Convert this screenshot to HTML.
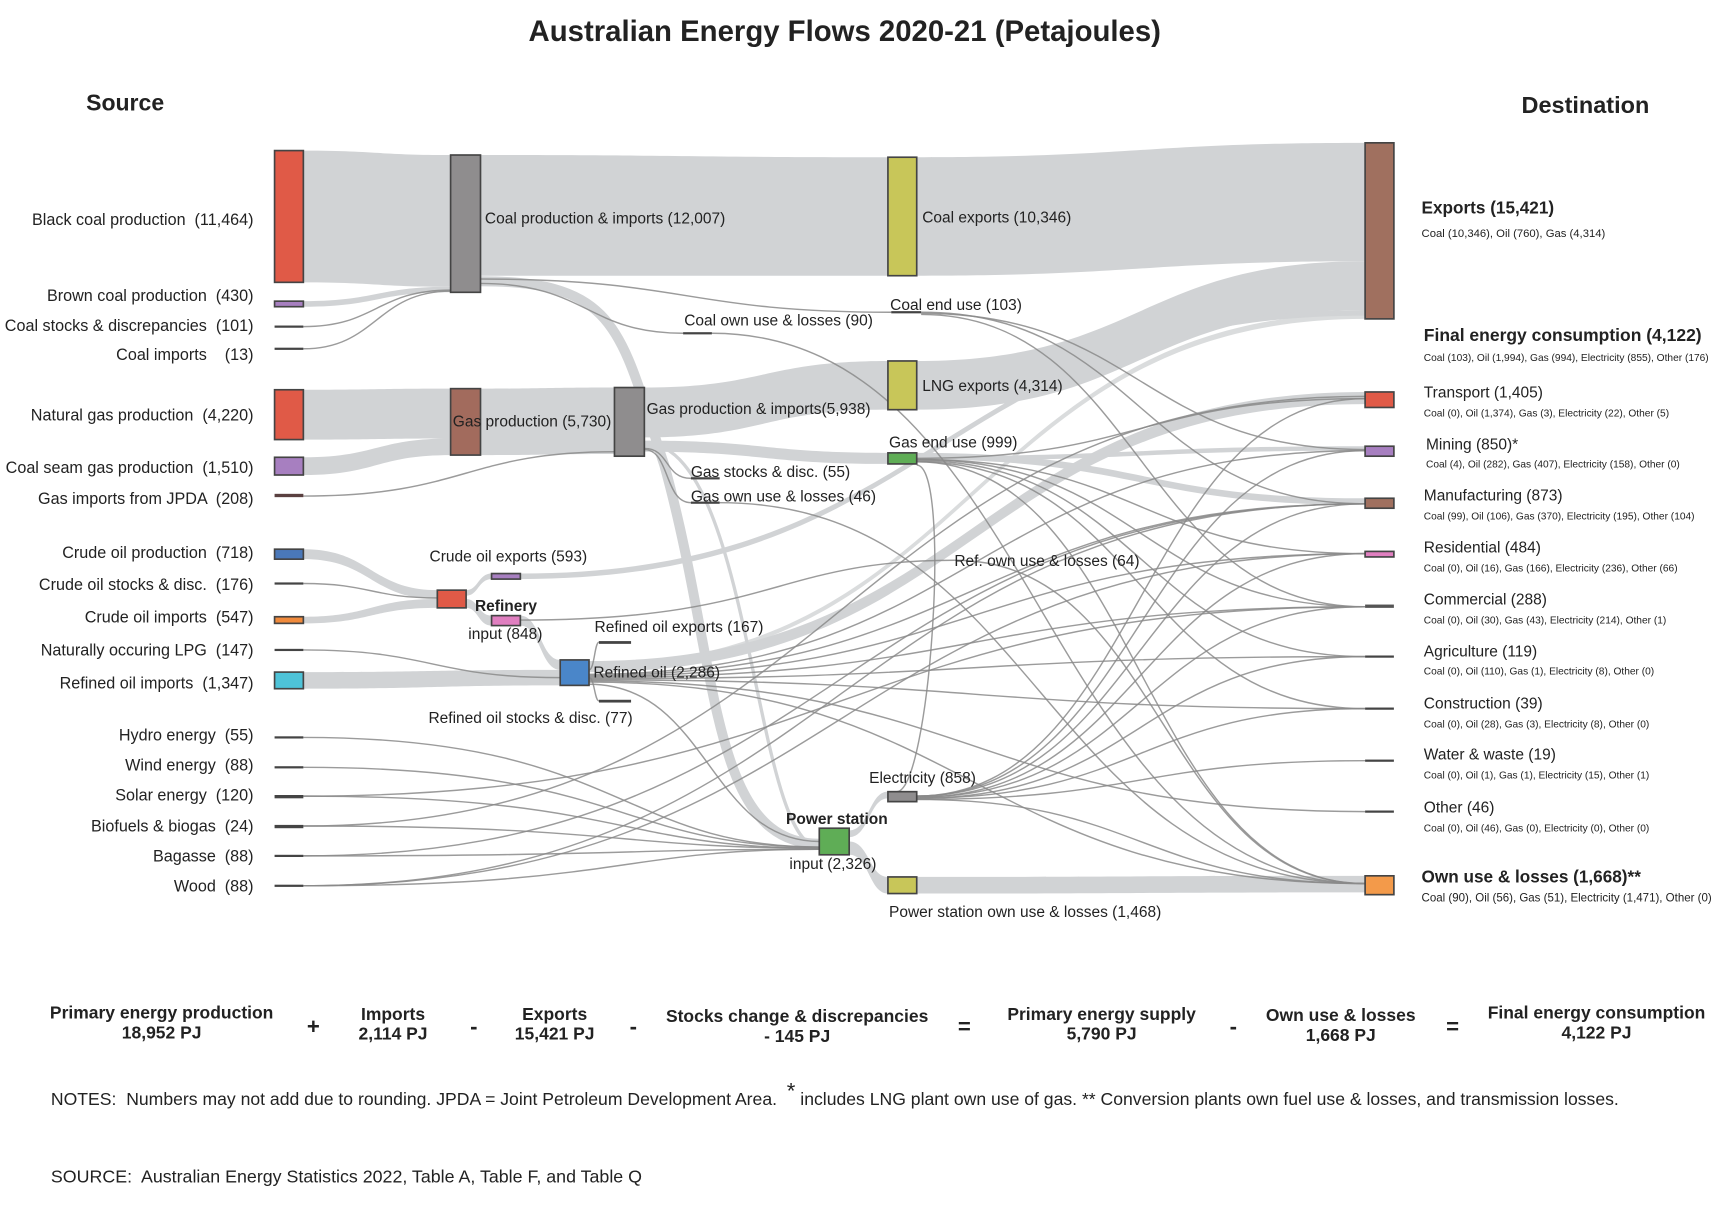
<!DOCTYPE html>
<html><head><meta charset="utf-8"><style>
html,body{margin:0;padding:0;background:#fff}
svg{display:block}
text{font-family:"Liberation Sans",Arial,sans-serif;fill:#222;white-space:pre}
.b{fill:#d1d3d5}
.l{fill:none;stroke:#8a8a8a;stroke-width:1.3;stroke-opacity:.85}
.n{stroke:#444;stroke-width:1.5}
.s{font-size:14px}
.ls{font-size:14.6px}
.sm{font-size:9.2px}
.bt{font-size:15.8px;font-weight:bold;fill:#444}
</style></head><body>
<svg width="1736" height="1208" viewBox="0 0 1568 1091" preserveAspectRatio="none" xmlns="http://www.w3.org/2000/svg">
<rect width="1568" height="1091" fill="#fff"/>
<path class="b" d="M274 136C340 136 340 140 407 140L407 259C340 259 340 255 274 255Z"/>
<path class="b" d="M274 272C340 272 340 259 407 259L407 264C340 264 340 277 274 277Z"/>
<path class="b" d="M434 140C620 140 620 142 802 142L802 249C620 249 620 249 434 249Z"/>
<path class="b" d="M828 142C1030 142 1030 129 1233 129L1233 236C1030 236 1030 249 828 249Z"/>
<path d="M434 254C560 254 560 300 600 420C650 600 640 762 740 762" fill="none" stroke="#d1d3d5" stroke-width="9"/>
<path class="b" d="M274 352C340 352 340 351 407 351L407 396C340 396 340 397 274 397Z"/>
<path class="b" d="M274 413C340 413 340 396 407 396L407 411C340 411 340 429 274 429Z"/>
<path class="b" d="M434 351C495 351 495 350 555 350L555 410C495 410 495 411 434 411Z"/>
<path class="b" d="M582 350C690 350 690 326 802 326L802 370C690 370 690 395 582 395Z"/>
<path class="b" d="M828 326C1030 326 1030 236 1233 236L1233 280C1030 280 1030 370 828 370Z"/>
<path class="b" d="M582 398C690 398 690 409 802 409L802 419C690 419 690 408 582 408Z"/>
<path class="b" d="M274 496C335 496 335 533 395 533L395 541C335 541 335 505 274 505Z"/>
<path class="b" d="M274 557C335 557 335 541 395 541L395 549C335 549 335 563 274 563Z"/>
<path class="b" d="M421 533C432 533 432 518 444 518L444 523C432 523 432 538 421 538Z"/>
<path class="b" d="M470 518C850 518 850 280 1233 280L1233 285C850 285 850 523 470 523Z"/>
<path class="b" d="M421 541C432 541 432 556 444 556L444 565C432 565 432 549 421 549Z"/>
<path class="b" d="M470 556C488 556 488 596 506 596L506 605C488 605 488 565 470 565Z"/>
<path class="b" d="M274 607C390 607 390 605 506 605L506 619C390 619 390 622 274 622Z"/>
<path class="b" d="M532 597C880 597 880 354 1233 354L1233 365C880 365 880 607 532 607Z"/>
<path class="b" d="M532 600C880 600 880 283 1233 283L1233 288C880 288 880 604 532 604Z" opacity=".8"/>
<path class="b" d="M767 750C785 750 785 715 802 715L802 721C785 721 785 756 767 756Z"/>
<path class="b" d="M767 760C785 760 785 792 802 792L802 807C785 807 785 772 767 772Z"/>
<path class="b" d="M828 792C1030 792 1030 791 1233 791L1233 806C1030 806 1030 807 828 807Z"/>
<path class="b" d="M828 409C1030 409 1030 450 1233 450L1233 456C1030 456 1030 415 828 415Z"/>
<path class="b" d="M828 412C1030 412 1030 403 1233 403L1233 407C1030 407 1030 416 828 416Z"/>
<path d="M582 400C680 400 680 765 740 765" fill="none" stroke="#d1d3d5" stroke-width="3"/>
<g class="l">
<path d="M274 295C340 295 340 262 407 262"/><path d="M274 315C340 315 340 263 407 263"/>
<path d="M274 448C420 448 420 408 555 408"/>
<path d="M274 527C335 527 335 540 395 540"/>
<path d="M274 587C390 587 390 612 506 612"/>
<path d="M434 252C620 252 620 282 805 282"/><path d="M434 256C530 256 530 301 617 301"/>
<path d="M582 405C605 405 600 432 624 432"/><path d="M582 406C605 406 600 454 624 454"/>
<path d="M532 605C537 605 537 580 541 580"/><path d="M532 612C537 612 537 633 541 633"/>
<path d="M832 282C1030 282 1030 455 1233 455"/><path d="M832 283C1030 283 1030 406 1233 406"/><path d="M832 284C1030 284 1030 548 1233 548"/>
<path d="M274 666C560 666 560 765 740 765"/><path d="M274 693C560 693 560 765 740 765"/><path d="M274 719C560 719 560 766 740 766"/>
<path d="M274 746C560 746 560 766 740 766"/><path d="M274 773C560 773 560 767 740 767"/><path d="M274 800C560 800 560 767 740 767"/>
<path d="M274 746C760 746 760 358 1233 358"/><path d="M274 773C760 773 760 455 1233 455"/><path d="M274 800C760 800 760 500 1233 500"/>
<path d="M274 800C760 800 760 455 1233 455"/><path d="M274 719C760 719 760 548 1233 548"/>
<path d="M828 719C1030 719 1030 360 1233 360"/><path d="M828 719C1030 719 1030 407 1233 407"/><path d="M828 719C1030 719 1030 455 1233 455"/>
<path d="M828 720C1030 720 1030 500 1233 500"/><path d="M828 720C1030 720 1030 548 1233 548"/><path d="M828 721C1030 721 1030 593 1233 593"/>
<path d="M828 721C1030 721 1030 640 1233 640"/><path d="M828 722C1030 722 1030 687 1233 687"/><path d="M828 722C1030 722 1030 798 1233 798"/>
<path d="M828 414C1030 414 1030 360 1233 360"/><path d="M828 415C1030 415 1030 500 1233 500"/><path d="M828 415C1030 415 1030 548 1233 548"/>
<path d="M828 416C1030 416 1030 593 1233 593"/><path d="M828 417C1030 417 1030 640 1233 640"/><path d="M828 417C1030 417 1030 798 1233 798"/>
<path d="M532 609C880 609 880 407 1233 407"/><path d="M532 610C880 610 880 455 1233 455"/><path d="M532 611C880 611 880 500 1233 500"/>
<path d="M532 612C880 612 880 548 1233 548"/><path d="M532 613C880 613 880 593 1233 593"/><path d="M532 614C880 614 880 640 1233 640"/>
<path d="M532 615C880 615 880 733 1233 733"/><path d="M532 616C880 616 880 798 1233 798"/><path d="M532 618C640 618 640 760 740 760"/>
<path d="M470 560C700 560 700 506 862 506"/><path d="M862 506C1050 506 1050 798 1233 798"/>
<path d="M643 301C940 301 940 798 1233 798"/><path d="M650 454C940 454 940 798 1233 798"/>
<path d="M828 420C860 420 840 715 810 715"/>
</g>
<rect class="n" x="248" y="136" width="26" height="119" fill="#e05a47"/>
<rect class="n" x="248" y="272" width="26" height="5" fill="#a77fc0"/>
<rect x="248" y="294" width="26" height="2" fill="#444"/><rect x="248" y="314" width="26" height="2" fill="#444"/>
<rect class="n" x="248" y="352" width="26" height="45" fill="#e05a47"/>
<rect class="n" x="248" y="413" width="26" height="16" fill="#a77fc0"/>
<rect x="248" y="446" width="26" height="3" fill="#5a4040"/>
<rect class="n" x="248" y="496" width="26" height="9" fill="#4a78b9"/>
<rect x="248" y="526" width="26" height="2" fill="#444"/>
<rect class="n" x="248" y="557" width="26" height="6" fill="#f08a3c"/>
<rect x="248" y="586" width="26" height="2" fill="#444"/>
<rect class="n" x="248" y="607" width="26" height="15" fill="#4ec3d8"/>
<g fill="#444"><rect x="248" y="665" width="26" height="2"/><rect x="248" y="692" width="26" height="2"/><rect x="248" y="718" width="26" height="3"/><rect x="248" y="745" width="26" height="3"/><rect x="248" y="772" width="26" height="2"/><rect x="248" y="799" width="26" height="2"/>
<rect x="617" y="300" width="26" height="2"/><rect x="805" y="281" width="27" height="2"/><rect x="624" y="431" width="26" height="2"/><rect x="624" y="453" width="26" height="2"/>
<rect x="541" y="579" width="29" height="2.5"/><rect x="541" y="632" width="29" height="2.5"/>
<rect x="1233" y="592" width="26" height="2"/><rect x="1233" y="639" width="26" height="2"/><rect x="1233" y="686" width="26" height="2"/><rect x="1233" y="732" width="26" height="2"/></g>
<rect class="n" x="407" y="140" width="27" height="124" fill="#8f8d8e"/>
<rect class="n" x="407" y="351" width="27" height="60" fill="#a26b5d"/>
<rect class="n" x="555" y="350" width="27" height="62" fill="#8f8d8e"/>
<rect class="n" x="395" y="533" width="26" height="16" fill="#e05a47"/>
<rect class="n" x="444" y="518" width="26" height="5" fill="#a77fc0"/>
<rect class="n" x="444" y="556" width="26" height="9" fill="#e07fc0"/>
<rect class="n" x="506" y="596" width="26" height="23" fill="#4a86c9"/>
<rect class="n" x="802" y="142" width="26" height="107" fill="#c8c659"/>
<rect class="n" x="802" y="326" width="26" height="44" fill="#c8c659"/>
<rect class="n" x="802" y="409" width="26" height="10" fill="#5fad56"/>
<rect class="n" x="740" y="748" width="27" height="24" fill="#5fad56"/>
<rect class="n" x="802" y="715" width="26" height="9" fill="#8f8d8e"/>
<rect class="n" x="802" y="792" width="26" height="15" fill="#c8c659"/>
<rect class="n" x="1233" y="129" width="26" height="159" fill="#a0705f"/>
<rect class="n" x="1233" y="354" width="26" height="14" fill="#e05a47"/>
<rect class="n" x="1233" y="403" width="26" height="9" fill="#a77fc0"/>
<rect class="n" x="1233" y="450" width="26" height="9" fill="#a0705f"/>
<rect class="n" x="1233" y="498" width="26" height="5" fill="#e07fc0"/>
<rect x="1233" y="546" width="26" height="3" fill="#555"/>
<rect class="n" x="1233" y="791" width="26" height="17" fill="#f39a4a"/>
<text x="763" y="37" text-anchor="middle" font-size="26.5" font-weight="bold">Australian Energy Flows 2020-21 (Petajoules)</text>
<text x="113" y="100" text-anchor="middle" font-size="20.8" font-weight="bold">Source</text>
<text x="1432" y="102" text-anchor="middle" font-size="21.2" font-weight="bold">Destination</text>
<g class="ls" text-anchor="end">
<text x="229" y="203">Black coal production  (11,464)</text>
<text x="229" y="272">Brown coal production  (430)</text>
<text x="229" y="299">Coal stocks &amp; discrepancies  (101)</text>
<text x="229" y="325">Coal imports    (13)</text>
<text x="229" y="380">Natural gas production  (4,220)</text>
<text x="229" y="427">Coal seam gas production  (1,510)</text>
<text x="229" y="455">Gas imports from JPDA  (208)</text>
<text x="229" y="504">Crude oil production  (718)</text>
<text x="229" y="533">Crude oil stocks &amp; disc.  (176)</text>
<text x="229" y="562">Crude oil imports  (547)</text>
<text x="229" y="592">Naturally occuring LPG  (147)</text>
<text x="229" y="622">Refined oil imports  (1,347)</text>
<text x="229" y="669">Hydro energy  (55)</text>
<text x="229" y="696">Wind energy  (88)</text>
<text x="229" y="723">Solar energy  (120)</text>
<text x="229" y="751">Biofuels &amp; biogas  (24)</text>
<text x="229" y="778">Bagasse  (88)</text>
<text x="229" y="805">Wood  (88)</text>
</g>
<g class="s">
<text x="438" y="202">Coal production &amp; imports (12,007)</text>
<text x="833" y="201">Coal exports (10,346)</text>
<text x="804" y="280">Coal end use (103)</text>
<text x="618" y="294">Coal own use &amp; losses (90)</text>
<text x="833" y="353">LNG exports (4,314)</text>
<text x="409" y="385">Gas production (5,730)</text>
<text x="584" y="374">Gas production &amp; imports(5,938)</text>
<text x="803" y="404">Gas end use (999)</text>
<text x="624" y="431">Gas stocks &amp; disc. (55)</text>
<text x="624" y="453">Gas own use &amp; losses (46)</text>
<text x="862" y="511">Ref. own use &amp; losses (64)</text>
<text x="388" y="507">Crude oil exports (593)</text>
<text x="429" y="552" font-weight="bold" fill="#444">Refinery</text>
<text x="423" y="577">input (848)</text>
<text x="537" y="571">Refined oil exports (167)</text>
<text x="536" y="612">Refined oil (2,286)</text>
<text x="387" y="653">Refined oil stocks &amp; disc. (77)</text>
<text x="785" y="707">Electricity (858)</text>
<text x="710" y="744" font-weight="bold">Power station</text>
<text x="713" y="785">input (2,326)</text>
<text x="803" y="828">Power station own use &amp; losses (1,468)</text>
</g>
<text x="1284" y="193" font-size="15.5" font-weight="bold">Exports (15,421)</text>
<text x="1284" y="214" font-size="10.2">Coal (10,346), Oil (760), Gas (4,314)</text>
<text x="1286" y="308" font-size="15.8" font-weight="bold">Final energy consumption (4,122)</text>
<text x="1286" y="326" class="sm">Coal (103), Oil (1,994), Gas (994), Electricity (855), Other (176)</text>
<g class="s">
<text x="1286" y="359">Transport (1,405)</text>
<text x="1288" y="406">Mining (850)*</text>
<text x="1286" y="452">Manufacturing (873)</text>
<text x="1286" y="499">Residential (484)</text>
<text x="1286" y="546">Commercial (288)</text>
<text x="1286" y="593">Agriculture (119)</text>
<text x="1286" y="640">Construction (39)</text>
<text x="1286" y="686">Water &amp; waste (19)</text>
<text x="1286" y="734">Other (46)</text>
</g>
<g class="sm">
<text x="1286" y="376">Coal (0), Oil (1,374), Gas (3), Electricity (22), Other (5)</text>
<text x="1288" y="422">Coal (4), Oil (282), Gas (407), Electricity (158), Other (0)</text>
<text x="1286" y="469">Coal (99), Oil (106), Gas (370), Electricity (195), Other (104)</text>
<text x="1286" y="516">Coal (0), Oil (16), Gas (166), Electricity (236), Other (66)</text>
<text x="1286" y="563">Coal (0), Oil (30), Gas (43), Electricity (214), Other (1)</text>
<text x="1286" y="609">Coal (0), Oil (110), Gas (1), Electricity (8), Other (0)</text>
<text x="1286" y="657">Coal (0), Oil (28), Gas (3), Electricity (8), Other (0)</text>
<text x="1286" y="703">Coal (0), Oil (1), Gas (1), Electricity (15), Other (1)</text>
<text x="1286" y="751">Coal (0), Oil (46), Gas (0), Electricity (0), Other (0)</text>
</g>
<text x="1284" y="797" font-size="15.5" font-weight="bold">Own use &amp; losses (1,668)**</text>
<text x="1284" y="814" font-size="10.4">Coal (90), Oil (56), Gas (51), Electricity (1,471), Other (0)</text>
<g class="bt" text-anchor="middle">
<text x="146" y="920">Primary energy production</text><text x="146" y="938">18,952 PJ</text>
<text x="283" y="934" font-size="20">+</text>
<text x="355" y="921">Imports</text><text x="355" y="939">2,114 PJ</text>
<text x="428" y="934" font-size="20">-</text>
<text x="501" y="921">Exports</text><text x="501" y="939">15,421 PJ</text>
<text x="572" y="934" font-size="20">-</text>
<text x="720" y="923">Stocks change &amp; discrepancies</text><text x="720" y="941">- 145 PJ</text>
<text x="871" y="934" font-size="20">=</text>
<text x="995" y="921">Primary energy supply</text><text x="995" y="939">5,790 PJ</text>
<text x="1114" y="934" font-size="20">-</text>
<text x="1211" y="922">Own use &amp; losses</text><text x="1211" y="940">1,668 PJ</text>
<text x="1312" y="934" font-size="20">=</text>
<text x="1442" y="920">Final energy consumption</text><text x="1442" y="938">4,122 PJ</text>
</g>
<text x="46" y="998" font-size="15.9">NOTES:  Numbers may not add due to rounding. JPDA = Joint Petroleum Development Area.  <tspan font-size="20" dy="-6">*</tspan><tspan dy="6"> includes LNG plant own use of gas. ** Conversion plants own fuel use &amp; losses, and transmission losses.</tspan></text>
<text x="46" y="1068" font-size="16.1">SOURCE:  Australian Energy Statistics 2022, Table A, Table F, and Table Q</text>
</svg>
</body></html>
